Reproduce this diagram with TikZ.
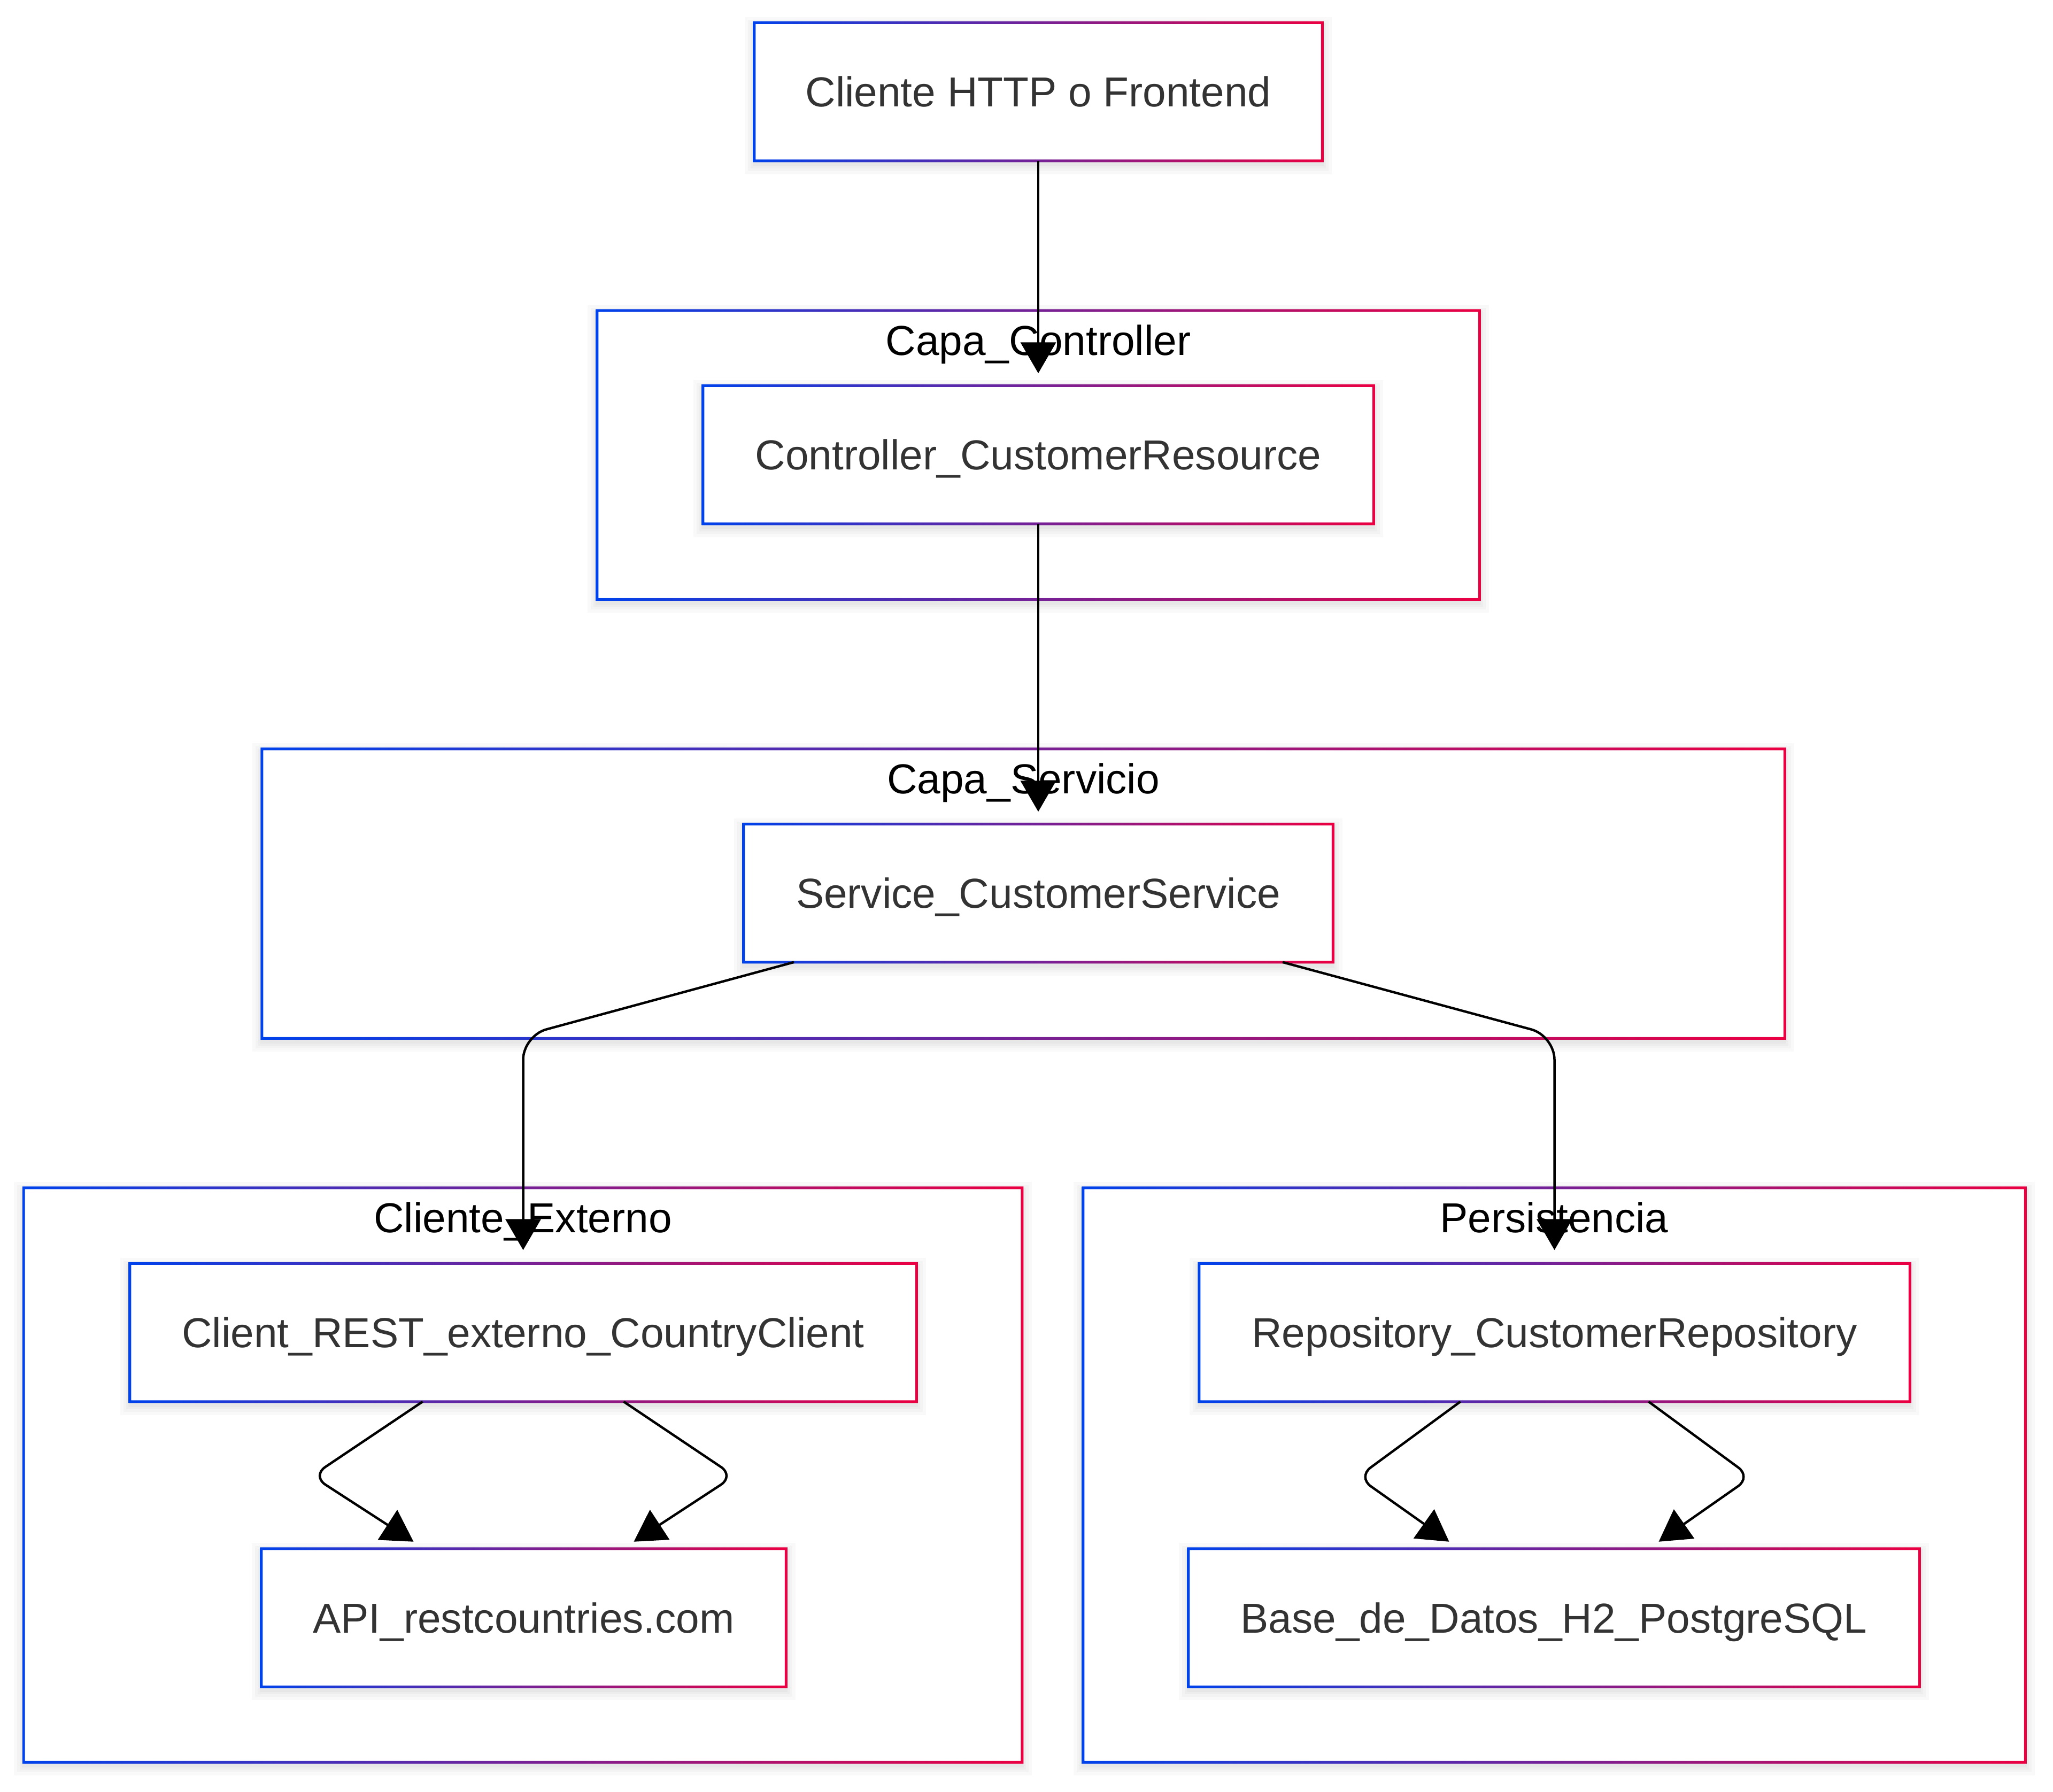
\documentclass[tikz,border=0pt]{standalone}
\usepackage{fontspec}
\setmainfont{Liberation Sans}
\usetikzlibrary{arrows.meta}
\definecolor{gradstart}{HTML}{0042EB}
\definecolor{gradstop}{HTML}{EB0042}
\definecolor{labelgray}{HTML}{333333}
\newcommand{\bw}{0.025}
% gradient border round a named node
\newcommand{\gradframe}[1]{%
  \shade[left color=gradstart, right color=gradstop, even odd rule]
    ([shift={(-\bw,-\bw)}]#1.south west) rectangle ([shift={(\bw,\bw)}]#1.north east)
    ([shift={(\bw,\bw)}]#1.south west) rectangle ([shift={(-\bw,-\bw)}]#1.north east);}
\tikzset{
  softshadow/.style={
    preaction={draw=black, draw opacity=0.025, line width=0.40cm, transform canvas={yshift=-0.07cm}},
    preaction={draw=black, draw opacity=0.025, line width=0.28cm, transform canvas={yshift=-0.07cm}},
    preaction={draw=black, draw opacity=0.025, line width=0.18cm, transform canvas={yshift=-0.07cm}},
    preaction={draw=black, draw opacity=0.025, line width=0.10cm, transform canvas={yshift=-0.07cm}}},
  nodebox/.style={softshadow, fill=white, inner sep=0pt, minimum height=2.54cm, text height=0.56cm,
    text depth=0cm, text=labelgray, font=\fontsize{22.3}{26.8}\selectfont},
  clusterbox/.style={softshadow, fill=white, inner sep=0pt},
  clustertitle/.style={anchor=base, text=black, font=\fontsize{22.3}{26.8}\selectfont},
}
\begin{document}
\begin{tikzpicture}[>={Triangle[length=0.58cm,width=0.66cm]}, line width=0.045cm]
	\useasboundingbox (0,0) rectangle (38.4,-33.51);
	% clusters
	\node[clusterbox, minimum width=16.46cm, minimum height=5.36cm] (capactrl) at (19.42,-8.51) {};
	\node[clusterbox, minimum width=28.44cm, minimum height=5.37cm] (capasvc) at (19.14,-16.715) {};
	\node[clusterbox, minimum width=18.63cm, minimum height=10.70cm] (extcli) at (9.78,-27.59) {};
	\node[clusterbox, minimum width=17.58cm, minimum height=10.70cm] (persist) at (29.07,-27.59) {};
	\foreach \n in {capactrl,capasvc,extcli,persist} {\gradframe{\n}}
	\node[clustertitle] (tctrl) at ([yshift=-0.84cm]capactrl.north) {Capa\_Controller};
	\node[clustertitle] (tsvc) at ([yshift=-0.84cm]capasvc.north) {Capa\_Servicio};
	\node[clustertitle] (text) at ([yshift=-0.84cm]extcli.north) {Cliente\_Externo};
	\node[clustertitle] (tpers) at ([yshift=-0.84cm]persist.north) {Persistencia};
	% nodes
	\node[nodebox, minimum width=10.58cm] (http) at (19.42,-1.715) {Cliente HTTP o Frontend};
	\node[nodebox, minimum width=12.50cm] (ctrl) at (19.42,-8.505) {Controller\_CustomerResource};
	\node[nodebox, minimum width=10.98cm] (svc) at (19.42,-16.705) {Service\_CustomerService};
	\node[nodebox, minimum width=14.67cm] (client) at (9.785,-24.925) {Client\_REST\_externo\_CountryClient};
	\node[nodebox, minimum width=9.77cm] (api) at (9.795,-30.26) {API\_restcountries.com};
	\node[nodebox, minimum width=13.25cm] (repo) at (29.075,-24.925) {Repository\_CustomerRepository};
	\node[nodebox, minimum width=13.63cm] (base) at (29.065,-30.26) {Base\_de\_Datos\_H2\_PostgreSQL};
	\foreach \n in {http,ctrl,svc,client,api,repo,base} {\gradframe{\n}}
	% connectors
	\draw[->, shorten >=0.23cm] (http) -- (ctrl);
	\draw[->, shorten >=0.23cm] (ctrl) -- (svc);
	\draw[->, shorten >=0.25cm, rounded corners=0.45cm] ([xshift=-4.57cm]svc.south) -- ([yshift=4.26cm]client.north) -- (client.north);
	\draw[->, shorten >=0.25cm, rounded corners=0.45cm] ([xshift=4.57cm]svc.south) -- ([yshift=4.26cm]repo.north) -- (repo.north);
	\draw[->, rounded corners=0.3cm] ([xshift=-1.88cm]client.south) -- ([shift={(-3.95,-1.39)}]client.south) -- ([shift={(-2.06,0.13)}]api.north);
	\draw[->, rounded corners=0.3cm] ([xshift=1.88cm]client.south) -- ([shift={(3.95,-1.39)}]client.south) -- ([shift={(2.06,0.13)}]api.north);
	\draw[->, rounded corners=0.3cm] ([xshift=-1.76cm]repo.south) -- ([shift={(-3.68,-1.41)}]repo.south) -- ([shift={(-1.96,0.13)}]base.north);
	\draw[->, rounded corners=0.3cm] ([xshift=1.76cm]repo.south) -- ([shift={(3.68,-1.41)}]repo.south) -- ([shift={(1.96,0.13)}]base.north);
\end{tikzpicture}
\end{document}
